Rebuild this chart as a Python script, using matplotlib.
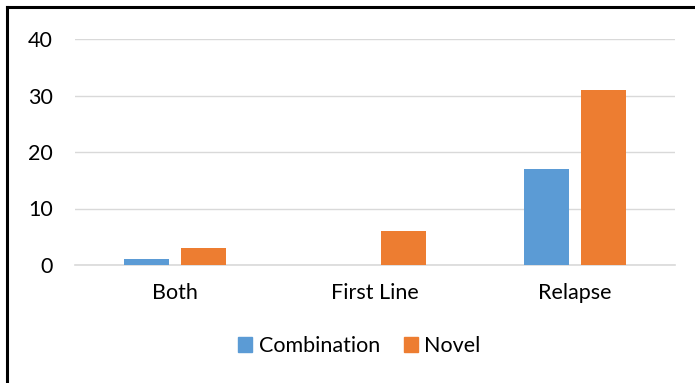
import matplotlib
matplotlib.use("Agg")
import matplotlib.pyplot as plt
from matplotlib.patches import Rectangle
from matplotlib.lines import Line2D
import numpy as np

plt.rcParams["font.family"] = ["Lato", "DejaVu Sans"]

categories = ["Both", "First Line", "Relapse"]
combination = [1, 0, 17]
novel = [3, 6, 31]
yticks = [0, 10, 20, 30, 40]

BLUE = "#5B9BD5"
ORANGE = "#ED7D31"
GRID = "#D9D9D9"
FS = 15.5

fig = plt.figure(figsize=(6.95, 3.83), dpi=100)
ax = fig.add_axes([75 / 695, 1 - 265 / 383, 600 / 695, 226 / 383])

x = np.arange(len(categories))
bw = 0.225
off = 0.1425
ax.bar(x - off, combination, width=bw, color=BLUE, zorder=3)
ax.bar(x + off, novel, width=bw, color=ORANGE, zorder=3)

ax.set_xlim(-0.5, len(categories) - 0.5)
ax.set_ylim(0, 40)
ax.set_yticks(yticks)
ax.set_xticks(x)
ax.set_xticklabels(categories)
ax.tick_params(axis="both", length=0, labelsize=FS, colors="#000000")
ax.tick_params(axis="y", pad=16)
ax.tick_params(axis="x", pad=13)
ax.grid(axis="y", color=GRID, linewidth=1.0, zorder=0)
for s in ["top", "right", "left"]:
    ax.spines[s].set_visible(False)
ax.spines["bottom"].set_color(GRID)
ax.spines["bottom"].set_linewidth(1.2)

handles = [Rectangle((0, 0), 1, 1, color=BLUE), Rectangle((0, 0), 1, 1, color=ORANGE)]
fig.legend(handles, ["Combination", "Novel"], loc="center",
           bbox_to_anchor=(359.5 / 695, 1 - 346 / 383),
           ncol=2, frameon=False, fontsize=FS, handlelength=0.65, handleheight=0.65,
           handletextpad=0.3, columnspacing=1.1)

# chart border: only top and left edges are inside the crop
bx, by = 7 / 695, 1 - 7 / 383
fig.add_artist(Line2D([bx, 1.01], [by, by], transform=fig.transFigure, color="black", lw=2.2))
fig.add_artist(Line2D([bx, bx], [by, -0.01], transform=fig.transFigure, color="black", lw=2.2))

fig.savefig("out.png", dpi=100)
